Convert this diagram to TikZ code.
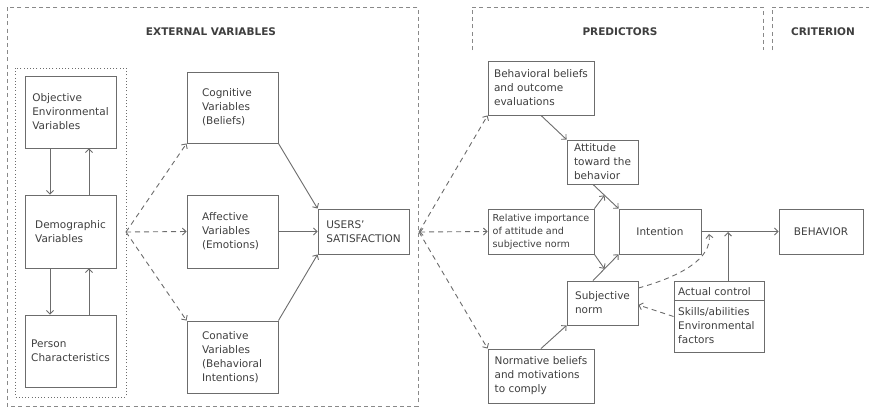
\documentclass[tikz,border=0pt]{standalone}
\usepackage{fontspec}
\setmainfont{DejaVu Sans}
\usetikzlibrary{arrows.meta,calc}
\definecolor{linegray}{RGB}{108,108,108}
\definecolor{inkgray}{RGB}{62,62,62}
\begin{document}
\begin{tikzpicture}[x=1pt,y=-1pt,
  every node/.style={text=inkgray},
  box/.style={draw=linegray,line width=0.9pt,inner sep=0pt,align=left,
    font=\fontsize{10.5}{14}\selectfont},
  txt/.style={inner sep=2pt,align=left,font=\fontsize{10.5}{14}\selectfont},
  hdr/.style={inner sep=0pt,font=\fontsize{10.5}{12}\selectfont\bfseries},
  arr/.style={draw=linegray,line width=0.9pt,-{Straight Barb[length=3.5pt,width=7pt]}},
  darr/.style={arr,dash pattern=on 5pt off 4pt},
  frame/.style={draw=linegray!80,line width=1pt,dash pattern=on 4pt off 3.2pt},
  dotframe/.style={draw=linegray,line width=0.9pt,dash pattern=on 1pt off 2.2pt}]

\useasboundingbox (0,0) rectangle (869,408);

% ---- frames and headings ----
\draw[frame] (7,7) rectangle (418,406);
\node[hdr] (hext) at (211,32) {EXTERNAL VARIABLES};
\draw[frame] (472,50) -- (472,7) -- (763,7) -- (763,50);
\node[hdr] (hpred) at (620,32) {PREDICTORS};
\draw[frame] (772,50) -- (772,7) -- (869,7);
\node[hdr] (hcrit) at (823,32) {CRITERION};
\draw[dotframe] (15,68) rectangle (126,397);

% ---- external variables ----
\node[box,minimum width=91pt,minimum height=72pt] (obj) at (70.5,112) {Objective\\Environmental\\Variables};
\node[box,minimum width=91pt,minimum height=73pt] (demo) at (70.5,231.5) {Demographic\\Variables};
\node[box,minimum width=91pt,minimum height=72pt] (pers) at (70.5,351) {Person\\Characteristics};

\node[box,minimum width=91pt,minimum height=71pt,text width=61pt] (cog) at (232.5,107.5) {Cognitive\\Variables\\(Beliefs)};
\node[box,minimum width=91pt,minimum height=73pt,text width=61pt] (aff) at (232.5,231.5) {Affective\\Variables\\(Emotions)};
\node[box,minimum width=91pt,minimum height=72pt,text width=61pt] (con) at (232.5,357) {Conative\\Variables\\(Behavioral\\Intentions)};
\node[box,minimum width=91pt,minimum height=45pt] (sat) at (363.5,231.5) {USERS’\\SATISFACTION};

\draw[arr] ([xshift=-20.5pt]obj.south) -- ([xshift=-20.5pt]demo.north);
\draw[arr] ([xshift=18.5pt]demo.north) -- ([xshift=18.5pt]obj.south);
\draw[arr] ([xshift=-20.5pt]demo.south) -- ([xshift=-20.5pt]pers.north);
\draw[arr] ([xshift=18.5pt]pers.north) -- ([xshift=18.5pt]demo.south);

\coordinate (lf) at (126,232);
\draw[darr] (lf) -- (cog.south west);
\draw[darr] (lf) -- (aff.west);
\draw[darr] (lf) -- (con.north west);

\draw[arr] (cog.south east) -- (sat.north west);
\draw[arr] (aff.east) -- (sat.west);
\draw[arr] (con.north east) -- (sat.south west);

% ---- predictors ----
\node[box,minimum width=106pt,minimum height=54pt] (bb) at (541,88) {Behavioral beliefs\\and outcome\\evaluations};
\node[box,minimum width=71pt,minimum height=44pt] (att) at (602.5,162) {Attitude\\toward the\\behavior};
\node[box,minimum width=106pt,minimum height=45pt,font=\fontsize{9.6}{13}\selectfont] (rel) at (541,231.5) {Relative importance\\of attitude and\\subjective norm};
\node[box,minimum width=82pt,minimum height=45pt] (int) at (660,231.5) {Intention};
\node[box,minimum width=71pt,minimum height=44pt] (sub) at (602.5,303) {Subjective\\norm};
\node[box,minimum width=106pt,minimum height=54pt] (nb) at (541,376) {Normative beliefs\\and motivations\\to comply};
\node[box,minimum width=84pt,minimum height=45pt] (beh) at (821,231.5) {BEHAVIOR};

% actual control box with its divider
\node[box,minimum width=90pt,minimum height=71pt] (act) at (719,316.5) {};
\node[txt,anchor=west] (acttop) at (676,291.5) {Actual control};
\node[txt,anchor=west] (actbot) at (676,326) {Skills/abilities\\Environmental\\factors};
\draw[draw=linegray,line width=0.9pt] (act.west |- 0,300) -- (act.east |- 0,300);

\coordinate (rf) at (419,232);
\draw[darr,{Straight Barb[length=3.5pt,width=7pt]}-{Straight Barb[length=3.5pt,width=7pt]}] (rf) -- (rel.west);
\draw[darr] (rf) -- (bb.south west);
\draw[darr] (rf) -- (nb.north west);

\draw[arr] (bb.south) -- (att.north west);
\draw[arr] ([xshift=-9.5pt]att.south) -- (int.north west) coordinate[pos=0.45] (m1);
\draw[arr] (nb.north) -- (sub.south west);
\draw[arr] ([xshift=-9.5pt]sub.north) -- (int.south west) coordinate[pos=0.45] (m2);
\draw[arr] (rel.north east) -- (m1);
\draw[arr] (rel.south east) -- (m2);

\draw[arr] (int.east) -- (beh.west);
\coordinate (ctl) at (728,232);
\draw[arr] (act.north -| ctl) -- (ctl);

\coordinate (cp) at (709,234);
\draw[darr] ($(sub.east)+(0,-15)$) .. controls (682,276) and (712,258) .. (cp);
\draw[darr] (act.west) -- ($(sub.east)+(0,2)$);

\end{tikzpicture}
\end{document}
